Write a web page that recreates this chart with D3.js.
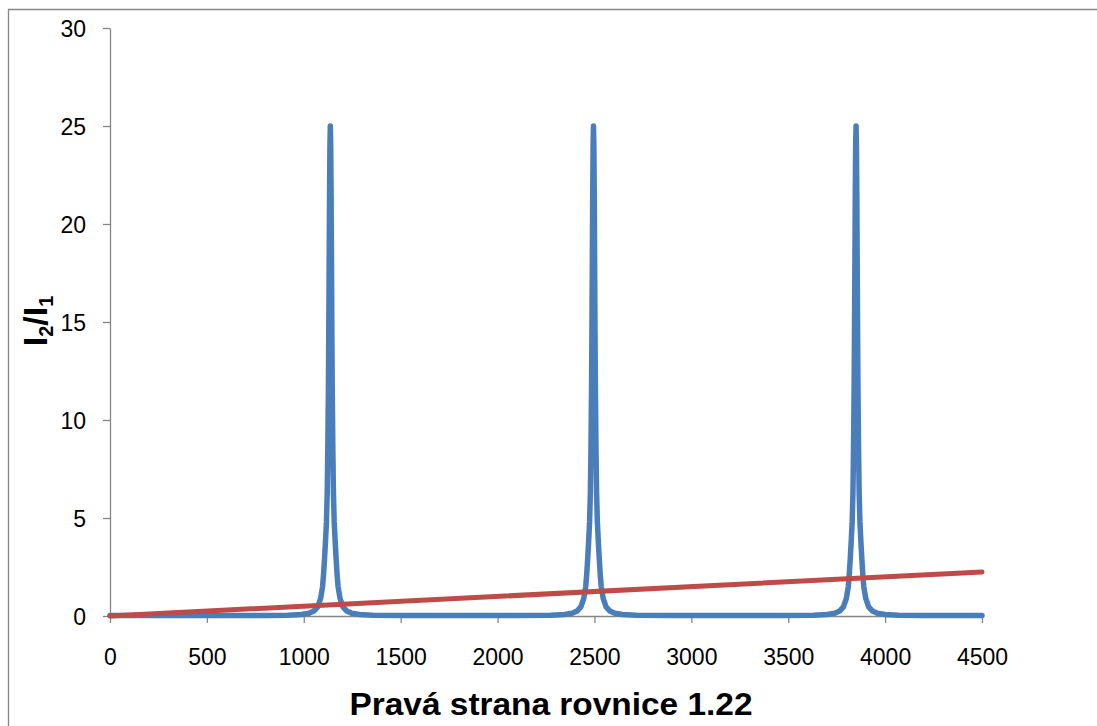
<!DOCTYPE html>
<html>
<head>
<meta charset="utf-8">
<script src="https://cdn.jsdelivr.net/npm/d3@7/dist/d3.min.js"></script>
<style>
html,body{margin:0;padding:0;background:#fff;}
svg{display:block;font-family:"Liberation Sans",Arial,sans-serif;}
</style>
</head>
<body>
<svg id="chart" width="1097" height="726"></svg>
<script>
// ---- data ----
const xTicks = [0, 500, 1000, 1500, 2000, 2500, 3000, 3500, 4000, 4500];
const yTicks = [0, 5, 10, 15, 20, 25, 30];

// blue series (I2/I1), read segment by segment
const baseA_X = [0, 300, 600, 800];
const baseA_Y = [0.02, 0.02, 0.025, 0.03];
const peak1X = [917, 987, 1027, 1052, 1072, 1087, 1097, 1102, 1107, 1112, 1117, 1121, 1124, 1127, 1129, 1131, 1133, 1135,
  1137, 1139, 1141, 1143, 1145, 1147, 1150, 1153, 1157, 1162, 1167, 1172, 1177, 1187, 1202, 1222, 1247, 1287, 1357];
const peak1Y = [0.04, 0.08, 0.14, 0.25, 0.47, 0.9, 1.5, 2.1, 2.9, 3.8, 4.8, 6.3, 8.5, 11.5, 14.5, 18, 21.5, 24,
  25, 24, 21.5, 18, 14.5, 11.5, 8.5, 6.3, 4.8, 3.8, 2.9, 2.1, 1.5, 0.9, 0.47, 0.25, 0.14, 0.08, 0.04];
const baseB_X = [1500, 1800, 2100];
const baseB_Y = [0.02, 0.02, 0.02];
const peak2X = [2275, 2345, 2385, 2410, 2430, 2445, 2455, 2460, 2465, 2470, 2475, 2479, 2482, 2485, 2487, 2489, 2491, 2493,
  2495, 2497, 2499, 2501, 2503, 2505, 2508, 2511, 2515, 2520, 2525, 2530, 2535, 2545, 2560, 2580, 2605, 2645, 2715];
const peak2Y = [0.04, 0.08, 0.14, 0.25, 0.47, 0.9, 1.5, 2.1, 2.9, 3.8, 4.8, 6.3, 8.5, 11.5, 14.5, 18, 21.5, 24,
  25, 24, 21.5, 18, 14.5, 11.5, 8.5, 6.3, 4.8, 3.8, 2.9, 2.1, 1.5, 0.9, 0.47, 0.25, 0.14, 0.08, 0.04];
const baseC_X = [2900, 3200, 3450];
const baseC_Y = [0.02, 0.02, 0.02];
const peak3X = [3630, 3700, 3740, 3765, 3785, 3800, 3810, 3815, 3820, 3825, 3830, 3834, 3837, 3840, 3842, 3844, 3846, 3848,
  3850, 3852, 3854, 3856, 3858, 3860, 3863, 3866, 3870, 3875, 3880, 3885, 3890, 3900, 3915, 3935, 3960, 4000, 4070];
const peak3Y = [0.04, 0.08, 0.14, 0.25, 0.47, 0.9, 1.5, 2.1, 2.9, 3.8, 4.8, 6.3, 8.5, 11.5, 14.5, 18, 21.5, 24,
  25, 24, 21.5, 18, 14.5, 11.5, 8.5, 6.3, 4.8, 3.8, 2.9, 2.1, 1.5, 0.9, 0.47, 0.25, 0.14, 0.08, 0.04];
const baseD_X = [4200, 4350, 4500];
const baseD_Y = [0.02, 0.02, 0.02];

const blueX = [].concat(baseA_X, peak1X, baseB_X, peak2X, baseC_X, peak3X, baseD_X);
const blueY = [].concat(baseA_Y, peak1Y, baseB_Y, peak2Y, baseC_Y, peak3Y, baseD_Y);

// red series (straight line)
const redX = [0, 4500];
const redY = [0, 2.25];

const xTitle = "Pravá strana rovnice 1.22";

// ---- drawing ----
const svg = d3.select("#chart");
const gray = "#868686";

svg.append("rect").attr("width", 1097).attr("height", 726).attr("fill", "#fff");
// outer chart border (right/bottom fall outside the picture)
svg.append("path").attr("d", "M8.5,726V9.5H1097").attr("fill", "none")
  .attr("stroke", gray).attr("stroke-width", 1.3);

const x = d3.scaleLinear().domain([0, 4500]).range([110, 982]);
const y = d3.scaleLinear().domain([0, 30]).range([616, 28]);

const font = "'Liberation Sans',Arial,sans-serif";

// axes
const yAxis = d3.axisLeft(y).tickValues(yTicks).tickFormat(d3.format("d"))
  .tickSize(7).tickSizeOuter(0).tickPadding(17);
const gy = svg.append("g").attr("transform", "translate(110,0)").call(yAxis);
gy.selectAll("path,line").attr("stroke", gray).attr("stroke-width", 1.3);
gy.selectAll("text").attr("font-size", 23).attr("fill", "#000")
  .attr("font-family", font).attr("dy", "0.36em");

const xAxis = d3.axisBottom(x).tickValues(xTicks).tickFormat(d3.format("d"))
  .tickSize(7).tickSizeOuter(0);
const gx = svg.append("g").attr("transform", "translate(0,616)").call(xAxis);
gx.selectAll("path,line").attr("stroke", gray).attr("stroke-width", 1.3);
gx.selectAll("text").attr("font-size", 23).attr("fill", "#000")
  .attr("font-family", font).attr("y", 49).attr("dy", 0);

// lines
const line = d3.line().x(d => x(d[0])).y(d => y(d[1]));
const blueData = blueX.map((v, i) => [v, blueY[i]]);
const redData = redX.map((v, i) => [v, redY[i]]);

svg.append("path").datum(blueData).attr("d", line)
  .attr("fill", "none").attr("stroke", "#4a7ebb").attr("stroke-width", 5.5)
  .attr("stroke-linejoin", "round").attr("stroke-linecap", "round");
svg.append("path").datum(redData).attr("d", line)
  .attr("fill", "none").attr("stroke", "#be4b48").attr("stroke-width", 5)
  .attr("stroke-linecap", "round");

// titles
svg.append("text").attr("x", 551).attr("y", 715).attr("text-anchor", "middle")
  .attr("font-size", 31).attr("font-weight", "bold").attr("font-family", font)
  .attr("textLength", 403).attr("lengthAdjust", "spacingAndGlyphs")
  .text(xTitle);

const yt = svg.append("text").attr("transform", "translate(47,321) rotate(-90)")
  .attr("text-anchor", "middle").attr("font-size", 34).attr("font-weight", "bold")
  .attr("font-family", font);
yt.append("tspan").text("I");
yt.append("tspan").attr("font-size", 20).attr("dy", 6).text("2");
yt.append("tspan").attr("dy", -6).text("/I");
yt.append("tspan").attr("font-size", 20).attr("dy", 6).text("1");
</script>
</body>
</html>
